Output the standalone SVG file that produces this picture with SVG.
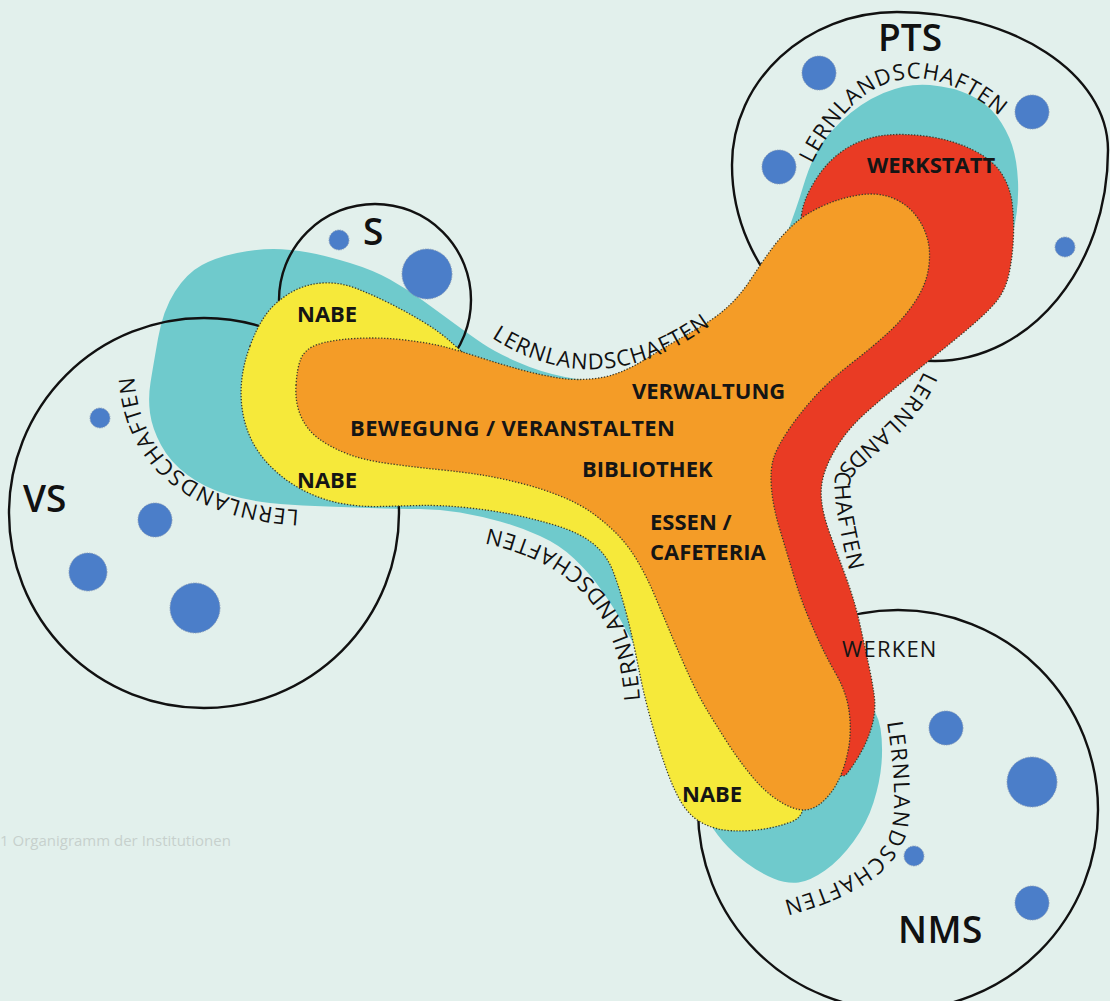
<svg xmlns="http://www.w3.org/2000/svg" xmlns:xlink="http://www.w3.org/1999/xlink" width="1110" height="1001" viewBox="0 0 1110 1001">
<style>
.bg{fill:#e2f0ec}
.ring{fill:none;stroke:#111;stroke-width:2.4}
.dot{fill:#4b7ec9;stroke:#7f93b3;stroke-width:0.8;stroke-dasharray:1.5 1}
.teal{fill:#6fcacc}
.yellow{fill:#f6e93a}
.orange{fill:#f49c27}
.red{fill:#e93b24}
.zone{stroke:#3b3b2b;stroke-width:1.3;stroke-dasharray:1.3 1.7}
.lbl{font-family:'Open Sans','Liberation Sans',sans-serif;font-weight:700;font-size:22px;fill:#151515}
.big{font-family:'Open Sans','Liberation Sans',sans-serif;font-weight:600;font-size:37px;fill:#111}
.ll{font-family:'Open Sans','Liberation Sans',sans-serif;font-size:22px;letter-spacing:1px;fill:#111}
.cap{font-family:'Open Sans','Liberation Sans',sans-serif;font-size:15px;fill:#c7d0cd}
</style>
<defs>
<path id="p-pts" d="M812,164 C872,44 949,71 1004,120"/>
<path id="p-top" d="M489,336 Q598.5,408.5 714,323"/>
<path id="p-right" d="M924,371 C898,430 850,445 836,474 C830,490 843,545 851,578"/>
<path id="p-vs" d="M299,510 C215,505 138,470 134,372"/>
<path id="p-low" d="M640,700 C636,640 615,555 487,528"/>
<path id="p-nms" d="M887,722 Q899,800 891,830 Q879,875 782,901"/>
</defs>
<rect class="bg" x="0" y="0" width="1110" height="1001"/>

<g id="zone-lernlandschaften">
<path class="teal" d="M150.5,382.5 Q153,367 158,338.5 Q163,310 175,291.5 Q187,273 202,265 Q217,257 237,253 Q257,249 273.5,249 Q290,249 308.5,252.5 Q327,256 350,263 Q373,270 390,279.5 Q407,289 423.5,301 Q440,313 455,324 Q470,335 482.5,343.5 Q495,352 517.5,362 Q540,372 565,377 Q590,382 610,381 Q630,380 650,376 Q670,372 700,356 Q730,340 752.5,302.5 Q775,265 786,236 Q797,207 802.5,188.5 Q808,170 815,155 Q822,140 841,121.5 Q860,103 883.5,93 Q907,83 930,85 Q953,87 970,95 Q987,103 997,116.5 Q1007,130 1012,145 Q1017,160 1018,181.5 Q1019,203 1014.5,226.5 Q1010,250 985,285 Q960,320 890,385 Q820,450 812.5,505 Q805,560 827.5,620 Q850,680 864,696 Q878,712 880.5,728.5 Q883,745 881.5,763.5 Q880,782 873.5,802.5 Q867,823 853.5,841.5 Q840,860 825,870.5 Q810,881 798.5,882.5 Q787,884 773.5,878.5 Q760,873 746.5,863 Q733,853 723,841.5 Q713,830 701.5,810 Q690,790 675,755 Q660,720 650,687.5 Q640,655 634,644.5 Q628,634 622.5,623.5 Q617,613 610,602.5 Q603,592 595.5,582 Q588,572 574,558.5 Q560,545 540,536 Q520,527 500,521.5 Q480,516 460,512.5 Q440,509 420,509 Q400,509 370,508 Q340,507 315,506 Q290,505 270,503 Q250,501 227.5,494.5 Q205,488 187.5,475 Q170,462 161,445 Q152,428 150,413 Q148,398 150.5,382.5 Z"/>
</g>

<g id="node-pts">
<path class="ring" d="M897,12 C1013.5,12 1108,73.8 1108,150 C1108,266.5 1030.5,361 935,361 C822.9,361 732,273.3 732,165 C732,80.5 805.9,12 897,12 Z"/>
<circle class="dot" cx="819" cy="73" r="17"/>
<circle class="dot" cx="1032" cy="112" r="17"/>
<circle class="dot" cx="779" cy="167" r="17"/>
<circle class="dot" cx="1065" cy="247" r="10"/>
<text class="big" x="910" y="51" text-anchor="middle">PTS</text>
</g>

<g id="node-s">
<circle class="ring" cx="375" cy="300" r="96"/>
<circle class="dot" cx="339" cy="240" r="10"/>
<circle class="dot" cx="427" cy="274" r="25"/>
<text class="big" x="363" y="245">S</text>
</g>

<g id="node-vs">
<circle class="ring" cx="204" cy="513" r="195"/>
<circle class="dot" cx="100" cy="418" r="10"/>
<circle class="dot" cx="155" cy="520" r="17"/>
<circle class="dot" cx="88" cy="572" r="19"/>
<circle class="dot" cx="195" cy="608" r="25"/>
<text class="big" x="23" y="512">VS</text>
</g>

<g id="node-nms">
<circle class="ring" cx="898" cy="810" r="200"/>
<circle class="dot" cx="946" cy="728" r="17"/>
<circle class="dot" cx="1032" cy="782" r="25"/>
<circle class="dot" cx="914" cy="856" r="10"/>
<circle class="dot" cx="1032" cy="903" r="17"/>
<text class="big" x="898" y="943" style="letter-spacing:0.5px">NMS</text>
</g>

<g id="zone-nabe">
<path class="yellow zone" d="M250,346 Q257,327 266,314.5 Q275,302 290,293 Q305,284 322.5,283 Q340,282 356.5,288.5 Q373,295 390,303.5 Q407,312 423.5,322 Q440,332 451,342 Q462,352 491,376 Q520,400 600,480 Q680,560 735,660 Q790,760 800,787.5 Q810,815 791,822 Q772,829 751,830.5 Q730,832 716.5,828.5 Q703,825 694,817.5 Q685,810 678.5,797.5 Q672,785 667,771 Q662,757 657,741 Q652,725 647.5,707.5 Q643,690 640,675 Q637,660 633.5,643.5 Q630,627 625,608.5 Q620,590 613.5,572.5 Q607,555 593.5,544 Q580,533 557.5,526 Q535,519 512.5,514.5 Q490,510 465,507.5 Q440,505 420,505.5 Q400,506 380,506.5 Q360,507 341.5,503.5 Q323,500 306.5,492 Q290,484 276.5,472 Q263,460 255,446.5 Q247,433 243.5,416.5 Q240,400 241.5,382.5 Q243,365 250,346 Z"/>
</g>

<g id="zone-werkstatt">
<path class="red zone" d="M801.5,215 Q803,200 815.5,180 Q828,160 845.5,149 Q863,138 883,135.5 Q903,133 928,136.5 Q953,140 973,150 Q993,160 1001.5,173.5 Q1010,187 1012,202 Q1014,217 1013.5,235 Q1013,253 1009.5,271.5 Q1006,290 995.5,302.5 Q985,315 957.5,337.5 Q930,360 905,380 Q880,400 865,413.5 Q850,427 840,442 Q830,457 825,471 Q820,485 821.5,500 Q823,515 830,534 Q837,553 843.5,570.5 Q850,588 854,601.5 Q858,615 861.5,631.5 Q865,648 868.5,664 Q872,680 874,694 Q876,708 873,721.5 Q870,735 863,748.5 Q856,762 847,773.5 Q838,785 826.5,742.5 Q815,700 792.5,630 Q770,560 765,515 Q760,470 780,400 Q800,330 800,280 Q800,230 801.5,215 Z"/>
</g>

<g id="zone-zentrum">
<path class="orange zone" d="M296,385.5 Q297,368 301,358.5 Q305,349 317.5,344.5 Q330,340 355,338.5 Q380,337 405,340 Q430,343 445,347 Q460,351 480,357.5 Q500,364 520,369.5 Q540,375 559,378 Q578,381 599,378 Q620,375 645,359.5 Q670,344 691.5,332 Q713,320 726.5,308 Q740,296 751,279 Q762,262 772,248.5 Q782,235 793.5,224.5 Q805,214 822.5,206 Q840,198 859,195 Q878,192 892.5,198 Q907,204 915.5,215 Q924,226 927.5,239 Q931,252 928.5,268.5 Q926,285 915.5,301 Q905,317 890,331 Q875,345 852.5,362.5 Q830,380 815,396.5 Q800,413 788.5,430 Q777,447 773.5,458.5 Q770,470 771.5,488.5 Q773,507 780,530 Q787,553 793.5,575 Q800,597 807.5,615 Q815,633 821.5,646.5 Q828,660 836.5,675 Q845,690 848,705 Q851,720 850,736 Q849,752 843,769.5 Q837,787 826,798.5 Q815,810 804,810 Q793,810 779,801 Q765,792 752.5,777 Q740,762 728,743.5 Q716,725 707,710 Q698,695 690,677.5 Q682,660 673.5,640 Q665,620 656,598.5 Q647,577 637.5,561 Q628,545 616.5,533.5 Q605,522 591.5,512.5 Q578,503 559,495.5 Q540,488 520,483 Q500,478 481.5,475 Q463,472 438,469.5 Q413,467 388,463.5 Q363,460 346.5,453.5 Q330,447 318.5,438.5 Q307,430 301,416.5 Q295,403 296,385.5 Z"/>
</g>

<g id="labels">
<text class="lbl" x="297" y="322">NABE</text>
<text class="lbl" x="297" y="488">NABE</text>
<text class="lbl" x="682" y="802">NABE</text>
<text class="lbl" x="350" y="436" style="letter-spacing:0.35px">BEWEGUNG / VERANSTALTEN</text>
<text class="lbl" x="632" y="399">VERWALTUNG</text>
<text class="lbl" x="582" y="477">BIBLIOTHEK</text>
<text class="lbl" x="650" y="530">ESSEN /</text>
<text class="lbl" x="650" y="560">CAFETERIA</text>
<text class="lbl" x="867" y="173">WERKSTATT</text>
<text class="lbl" x="842" y="657" style="font-weight:400;letter-spacing:1.2px">WERKEN</text>
</g>

<g id="lernlandschaften-labels">
<text class="ll"><textPath xlink:href="#p-pts" href="#p-pts">LERNLANDSCHAFTEN</textPath></text>
<text class="ll"><textPath xlink:href="#p-top" href="#p-top" startOffset="3">LERNLANDSCHAFTEN</textPath></text>
<text class="ll"><textPath xlink:href="#p-right" href="#p-right">LERNLANDSCHAFTEN</textPath></text>
<text class="ll"><textPath xlink:href="#p-vs" href="#p-vs">LERNLANDSCHAFTEN</textPath></text>
<text class="ll" style="letter-spacing:2px"><textPath xlink:href="#p-low" href="#p-low">LERNLANDSCHAFTEN</textPath></text>
<text class="ll" style="letter-spacing:1.5px"><textPath xlink:href="#p-nms" href="#p-nms">LERNLANDSCHAFTEN</textPath></text>
</g>

<text class="cap" x="0" y="846">1 Organigramm der Institutionen</text>
</svg>
